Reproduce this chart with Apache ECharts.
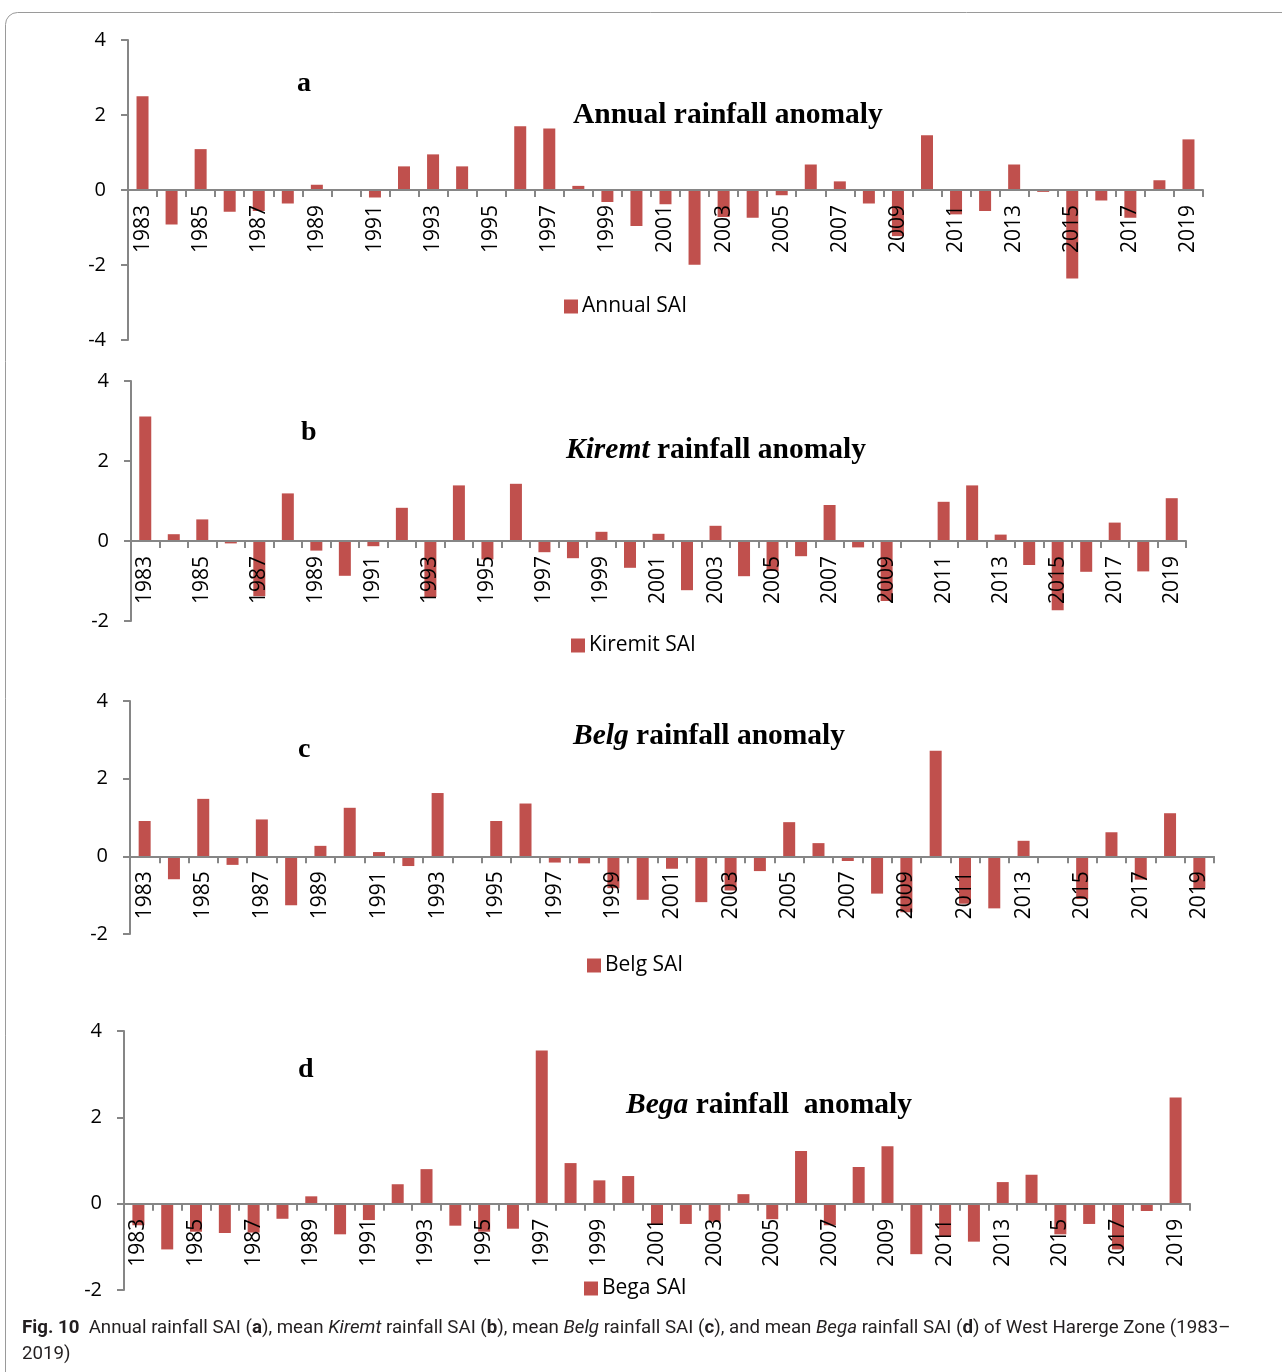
<!DOCTYPE html>
<html>
<head>
<meta charset="utf-8">
<title>Rainfall SAI, West Harerge Zone</title>
<script src="https://cdn.jsdelivr.net/npm/echarts@6/dist/echarts.min.js"></script>
<style>
  html, body { margin: 0; padding: 0; background: #ffffff; }
  #chart { width: 1282px; height: 1372px; }
</style>
</head>
<body>
<div id="chart"></div>
<script>
// Years 1983–2019
const years = ['1983','1984','1985','1986','1987','1988','1989','1990','1991','1992',
  '1993','1994','1995','1996','1997','1998','1999','2000','2001','2002',
  '2003','2004','2005','2006','2007','2008','2009','2010','2011','2012',
  '2013','2014','2015','2016','2017','2018','2019'];

// Standardized anomaly index per year
const annualSAI = [2.50,-0.92,1.09,-0.58,-0.56,-0.36,0.14,0,-0.20,0.63,0.95,0.63,0,1.70,1.64,0.11,-0.32,-0.96,
  -0.38,-1.99,-0.72,-0.74,-0.14,0.68,0.23,-0.36,-1.23,1.46,-0.65,-0.56,0.68,-0.05,-2.36,-0.28,-0.74,0.26,1.35];
const kiremtSAI = [3.11,0.17,0.54,-0.06,-1.38,1.19,-0.24,-0.87,-0.13,0.83,-1.40,1.39,-0.46,1.43,-0.28,-0.43,0.23,-0.67,
  0.18,-1.23,0.38,-0.88,-0.75,-0.38,0.90,-0.16,-1.50,0,0.98,1.39,0.16,-0.60,-1.73,-0.77,0.46,-0.76,1.07];
const belgSAI = [0.91,-0.59,1.48,-0.22,0.95,-1.26,0.27,1.25,0.11,-0.25,1.63,0,0.91,1.36,-0.16,-0.18,-0.82,-1.12,
  -0.32,-1.18,-0.88,-0.38,0.88,0.34,-0.12,-0.96,-1.44,2.72,-1.22,-1.34,0.40,0,-1.10,0.62,-0.60,1.11,-0.82];
const begaSAI = [-0.50,-1.06,-0.65,-0.68,-0.67,-0.35,0.17,-0.71,-0.38,0.45,0.80,-0.51,-0.65,-0.58,3.55,0.94,0.54,0.64,
  -0.48,-0.47,-0.42,0.22,-0.36,1.22,-0.50,0.85,1.33,-1.17,-0.75,-0.88,0.50,0.67,-0.71,-0.47,-1.06,-0.17,2.46];

// Value axis ticks for each panel
const yTicksA = [-4, -2, 0, 2, 4];
const yTicksB = [-2, 0, 2, 4];
const yTicksC = [-2, 0, 2, 4];
const yTicksD = [-2, 0, 2, 4];

const seriesNames = ['Annual SAI', 'Kiremit SAI', 'Belg SAI', 'Bega SAI'];

const BAR = '#C0504D';
const AXIS = '#868686';
const SANS = '"Open Sans", "Noto Sans", sans-serif';
const SERIF = '"Liberation Serif", "DejaVu Serif", serif';

const grids = [
  { left: 128, top: 40,   width: 1075, height: 300 },
  { left: 131, top: 381,  width: 1055, height: 240 },
  { left: 130, top: 701,  width: 1084, height: 233 },
  { left: 124, top: 1031, width: 1066, height: 259 }
];
const tickSets = [yTicksA, yTicksB, yTicksC, yTicksD];
const dataSets = [annualSAI, kiremtSAI, belgSAI, begaSAI];
const legendPos = [
  { left: 564, top: 296 },
  { left: 571, top: 635 },
  { left: 587, top: 955 },
  { left: 584, top: 1278 }
];

// The category axis sits on the zero line: shift it up from the grid bottom
const zeroOffset = (g, t) => -g.height * (0 - t[0]) / (t[t.length - 1] - t[0]);

const xAxes = grids.map((g, i) => ({
  type: 'category',
  gridIndex: i,
  data: years,
  z: 5,
  position: 'bottom',
  offset: zeroOffset(g, tickSets[i]),
  axisLine: { onZero: false, lineStyle: { color: AXIS, width: 2 } },
  axisTick: { show: true, interval: 0, length: 7, lineStyle: { color: AXIS, width: 2 } },
  axisLabel: {
    interval: 1, rotate: 90, margin: 15,
    color: '#000', fontFamily: SANS, fontSize: 21
  },
  splitLine: { show: false }
}));

const yAxes = tickSets.map((t, i) => ({
  type: 'value',
  gridIndex: i,
  min: t[0],
  max: t[t.length - 1],
  interval: 2,
  axisLine: { show: true, lineStyle: { color: AXIS, width: 2 } },
  axisTick: { show: true, length: 7, lineStyle: { color: AXIS, width: 2 } },
  axisLabel: { margin: 22, color: '#000', fontFamily: SANS, fontSize: 20 },
  splitLine: { show: false }
}));

const series = dataSets.map((d, i) => ({
  name: seriesNames[i],
  type: 'bar',
  xAxisIndex: i,
  yAxisIndex: i,
  data: d,
  barWidth: 12,
  itemStyle: { color: BAR },
  z: 2
}));

const legends = seriesNames.map((n, i) => ({
  data: [n],
  left: legendPos[i].left,
  top: legendPos[i].top,
  icon: 'rect',
  itemWidth: 14,
  itemHeight: 14,
  itemGap: 6,
  padding: 0,
  selectedMode: false,
  textStyle: { fontFamily: SANS, fontSize: 21, color: '#000', padding: [0, 0, 0, -1] }
}));

const boldSerif = { fontFamily: SERIF, fontWeight: 'bold', fontSize: 29.5, color: '#000' };
const italicSerif = { fontFamily: SERIF, fontWeight: 'bold', fontStyle: 'italic', fontSize: 29.5, color: '#000' };
const letterStyle = { fontFamily: SERIF, fontWeight: 'bold', fontSize: 28, color: '#000' };

const capBase = { fontFamily: 'Roboto, sans-serif', fontSize: 18.7, color: '#231F20', fontWeight: 'normal' };
const capRich = {
  b: Object.assign({}, capBase, { fontWeight: 'bold' }),
  n: Object.assign({}, capBase),
  i: Object.assign({}, capBase, { fontStyle: 'italic' })
};

const titles = [
  { text: 'a', left: 297, top: 70, padding: 0, textStyle: letterStyle },
  { text: '{n|Annual rainfall anomaly}', left: 573, top: 100, padding: 0,
    textStyle: { rich: { n: boldSerif } } },
  { text: 'b', left: 301, top: 419, padding: 0, textStyle: letterStyle },
  { text: '{i|Kiremt}{n| rainfall anomaly}', left: 566, top: 435, padding: 0,
    textStyle: { rich: { n: boldSerif, i: italicSerif } } },
  { text: 'c', left: 298, top: 736, padding: 0, textStyle: letterStyle },
  { text: '{i|Belg}{n| rainfall anomaly}', left: 573, top: 721, padding: 0,
    textStyle: { rich: { n: boldSerif, i: italicSerif } } },
  { text: 'd', left: 298, top: 1056, padding: 0, textStyle: letterStyle },
  { text: '{i|Bega}{n| rainfall  anomaly}', left: 626, top: 1090, padding: 0,
    textStyle: { rich: { n: boldSerif, i: italicSerif } } },
  { text: '{b|Fig. 10}{n|  Annual rainfall SAI (}{b|a}{n|), mean }{i|Kiremt}{n| rainfall SAI (}{b|b}{n|), mean }{i|Belg}{n| rainfall SAI (}{b|c}{n|), and mean }{i|Bega}{n| rainfall SAI (}{b|d}{n|) of West Harerge Zone (1983–}',
    left: 22, top: 1319, padding: 0, textStyle: { fontWeight: 'normal', rich: capRich } },
  { text: '{n|2019)}', left: 22, top: 1345, padding: 0, textStyle: { fontWeight: 'normal', rich: capRich } }
];

const chart = echarts.init(document.getElementById('chart'), null, { renderer: 'canvas' });
chart.setOption({
  animation: false,
  backgroundColor: '#ffffff',
  title: titles,
  legend: legends,
  grid: grids,
  xAxis: xAxes,
  yAxis: yAxes,
  series: series,
  graphic: [{
    type: 'rect',
    shape: { x: 5.5, y: 12.5, width: 1320, height: 1420, r: 12 },
    style: { fill: 'none', stroke: '#9a9a9a', lineWidth: 1 },
    silent: true,
    z: -10
  }]
});
</script>
</body>
</html>
